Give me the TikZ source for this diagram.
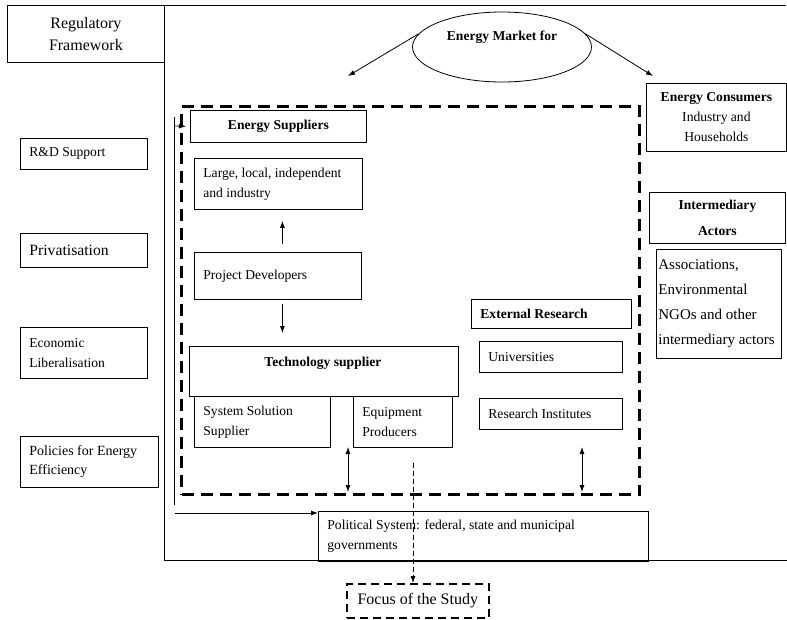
\documentclass[tikz,border=0pt]{standalone}
\usepackage{fontspec}
\setmainfont{Liberation Serif}
\usetikzlibrary{arrows.meta,shapes.geometric}
\begin{document}
\begin{tikzpicture}[x=1pt,y=-1pt,
  thinline/.style={line width=0.8pt},
  box/.style={draw, line width=0.8pt, inner xsep=9pt, inner ysep=0pt, anchor=north west,
    align=flush left, font=\fontsize{13.6}{20}\selectfont},
  cbox/.style={box, align=flush center},
  bfont/.style={font=\fontsize{13.6}{20}\selectfont\bfseries},
  arr/.style={line width=0.8pt, -{Latex[length=7pt,width=5pt]}},
  darr/.style={line width=0.8pt, {Latex[length=7pt,width=5pt]}-{Latex[length=7pt,width=5pt]}},
  bigdash/.style={draw, line width=3pt, dash pattern=on 12pt off 7pt},
  middash/.style={draw, line width=1.6pt, dash pattern=on 8pt off 5pt},
  smalldash/.style={line width=0.8pt, dash pattern=on 5pt off 3pt}
]
\useasboundingbox (0,0) rectangle (787,619);

% outer frame
\coordinate (tl) at (7,5);
\coordinate (tr) at (786,5);
\coordinate (vt) at (164,5);
\coordinate (vb) at (164,560);
\coordinate (br) at (787,560);
\draw[thinline] (tl) -- (tr);
\draw[thinline] (vt) -- (vb) -- (br);

% regulatory framework
\node[cbox, text width=139pt, minimum height=57pt, font=\fontsize{16}{22}\selectfont] (reg) at (7,5) {Regulatory\\Framework};

% left boxes
\node[box, text width=109pt, minimum height=31pt] (rd) at (20,138) {R\&D Support};
\node[box, text width=109pt, minimum height=34pt, font=\fontsize{15.7}{20}\selectfont] (priv) at (20,233) {Privatisation};
\node[box, text width=109pt, minimum height=51pt] (econ) at (20,327) {Economic\\Liberalisation};
\node[box, text width=120pt, minimum height=51pt, font=\fontsize{14}{19}\selectfont] (pol) at (20,436) {Policies for Energy\\Efficiency};

% energy market ellipse
\node[draw, thinline, ellipse, minimum width=179pt, minimum height=70pt, inner sep=0pt] (mkt) at (502,47) {};
\node[bfont] (mkttxt) at (502,37) {Energy Market for};
\coordinate (la) at (348,76);
\coordinate (ra) at (653,76);
\draw[arr] (mkt.171) -- (la);
\draw[arr] (mkt.9) -- (ra);

% energy consumers
\node[cbox, inner xsep=2pt, text width=136pt, minimum height=68pt] (cons) at (646,83) {\textbf{Energy Consumers}\\Industry and\\Households};

% intermediary actors
\node[cbox, inner xsep=2pt, text width=132pt, minimum height=51pt, font=\fontsize{13.6}{26}\selectfont\bfseries] (inter) at (649,192) {Intermediary\\Actors};
\node[box, inner xsep=2pt, text width=121pt, minimum height=109pt, font=\fontsize{15}{25}\selectfont] (assoc) at (656,249) {Associations,\\Environmental\\NGOs and other\\intermediary actors};

% focus area (dashed)
\node[bigdash, minimum width=458pt, minimum height=388pt, anchor=north west, inner sep=0pt] (area) at (180,105) {};

% energy suppliers side
\node[cbox, text width=158pt, minimum height=32pt, font=\fontsize{13.6}{20}\selectfont\bfseries] (sup) at (190,110) {Energy Suppliers};
\node[box, text width=150pt, minimum height=51pt] (large) at (194,158) {Large, local, independent\\and industry};
\node[box, text width=149pt, minimum height=47pt] (dev) at (194,252) {Project Developers};
\draw[arr, shorten <=8pt, shorten >=11pt] ([xshift=4.5pt]dev.north) -- ([xshift=4.5pt]dev.north |- large.south);
\draw[arr, shorten <=4pt, shorten >=13pt] ([xshift=4.5pt]dev.south) -- ([xshift=4.5pt]dev.south |- 0,346);

% technology supplier
\node[box, text width=251pt, minimum height=50pt] (tech) at (189,346) {};
\node[bfont] (techtxt) at (323,363) {Technology supplier};
\node[box, text width=118pt, minimum height=51pt] (sys) at (194,396) {System Solution\\Supplier};
\node[box, text width=81pt, minimum height=51pt] (equip) at (353,396) {Equipment\\Producers};

% external research
\node[box, text width=142pt, minimum height=29pt, font=\fontsize{13.6}{20}\selectfont\bfseries] (ext) at (471,299) {External Research};
\node[box, text width=125pt, minimum height=31pt] (uni) at (479,341) {Universities};
\node[box, text width=125pt, minimum height=31pt] (ri) at (479,398) {Research Institutes};

% double arrows
\coordinate (da1) at (348,447);
\coordinate (da2) at (348,492);
\draw[darr] (da1) -- (da2);
\coordinate (db1) at (582,447);
\coordinate (db2) at (582,492);
\draw[darr] (db1) -- (db2);

% thin left line and arrows
\coordinate (lt) at (174,117);
\coordinate (lb) at (174,505);
\draw[thinline] (lt) -- (lb);
\coordinate (sa) at (174,126);
\draw[arr, shorten >=4pt] (sa) -- (sup.west);

% political system
\node[box, text width=312pt, minimum height=50pt] (polsys) at (318,511) {Political System: federal, state and municipal\\governments};
\coordinate (pa) at (175,513);
\draw[arr] (pa) -- (pa -| polsys.west);

% focus of the study
\node[middash, minimum width=142pt, minimum height=34pt, anchor=north west, inner sep=0pt, font=\fontsize{16}{20}\selectfont] (focus) at (346,583) {Focus of the Study};
\coordinate (fa) at (413,463);
\draw[smalldash, -{Latex[length=7pt,width=5pt]}] (fa) -- (fa |- focus.north);
\end{tikzpicture}
\end{document}
